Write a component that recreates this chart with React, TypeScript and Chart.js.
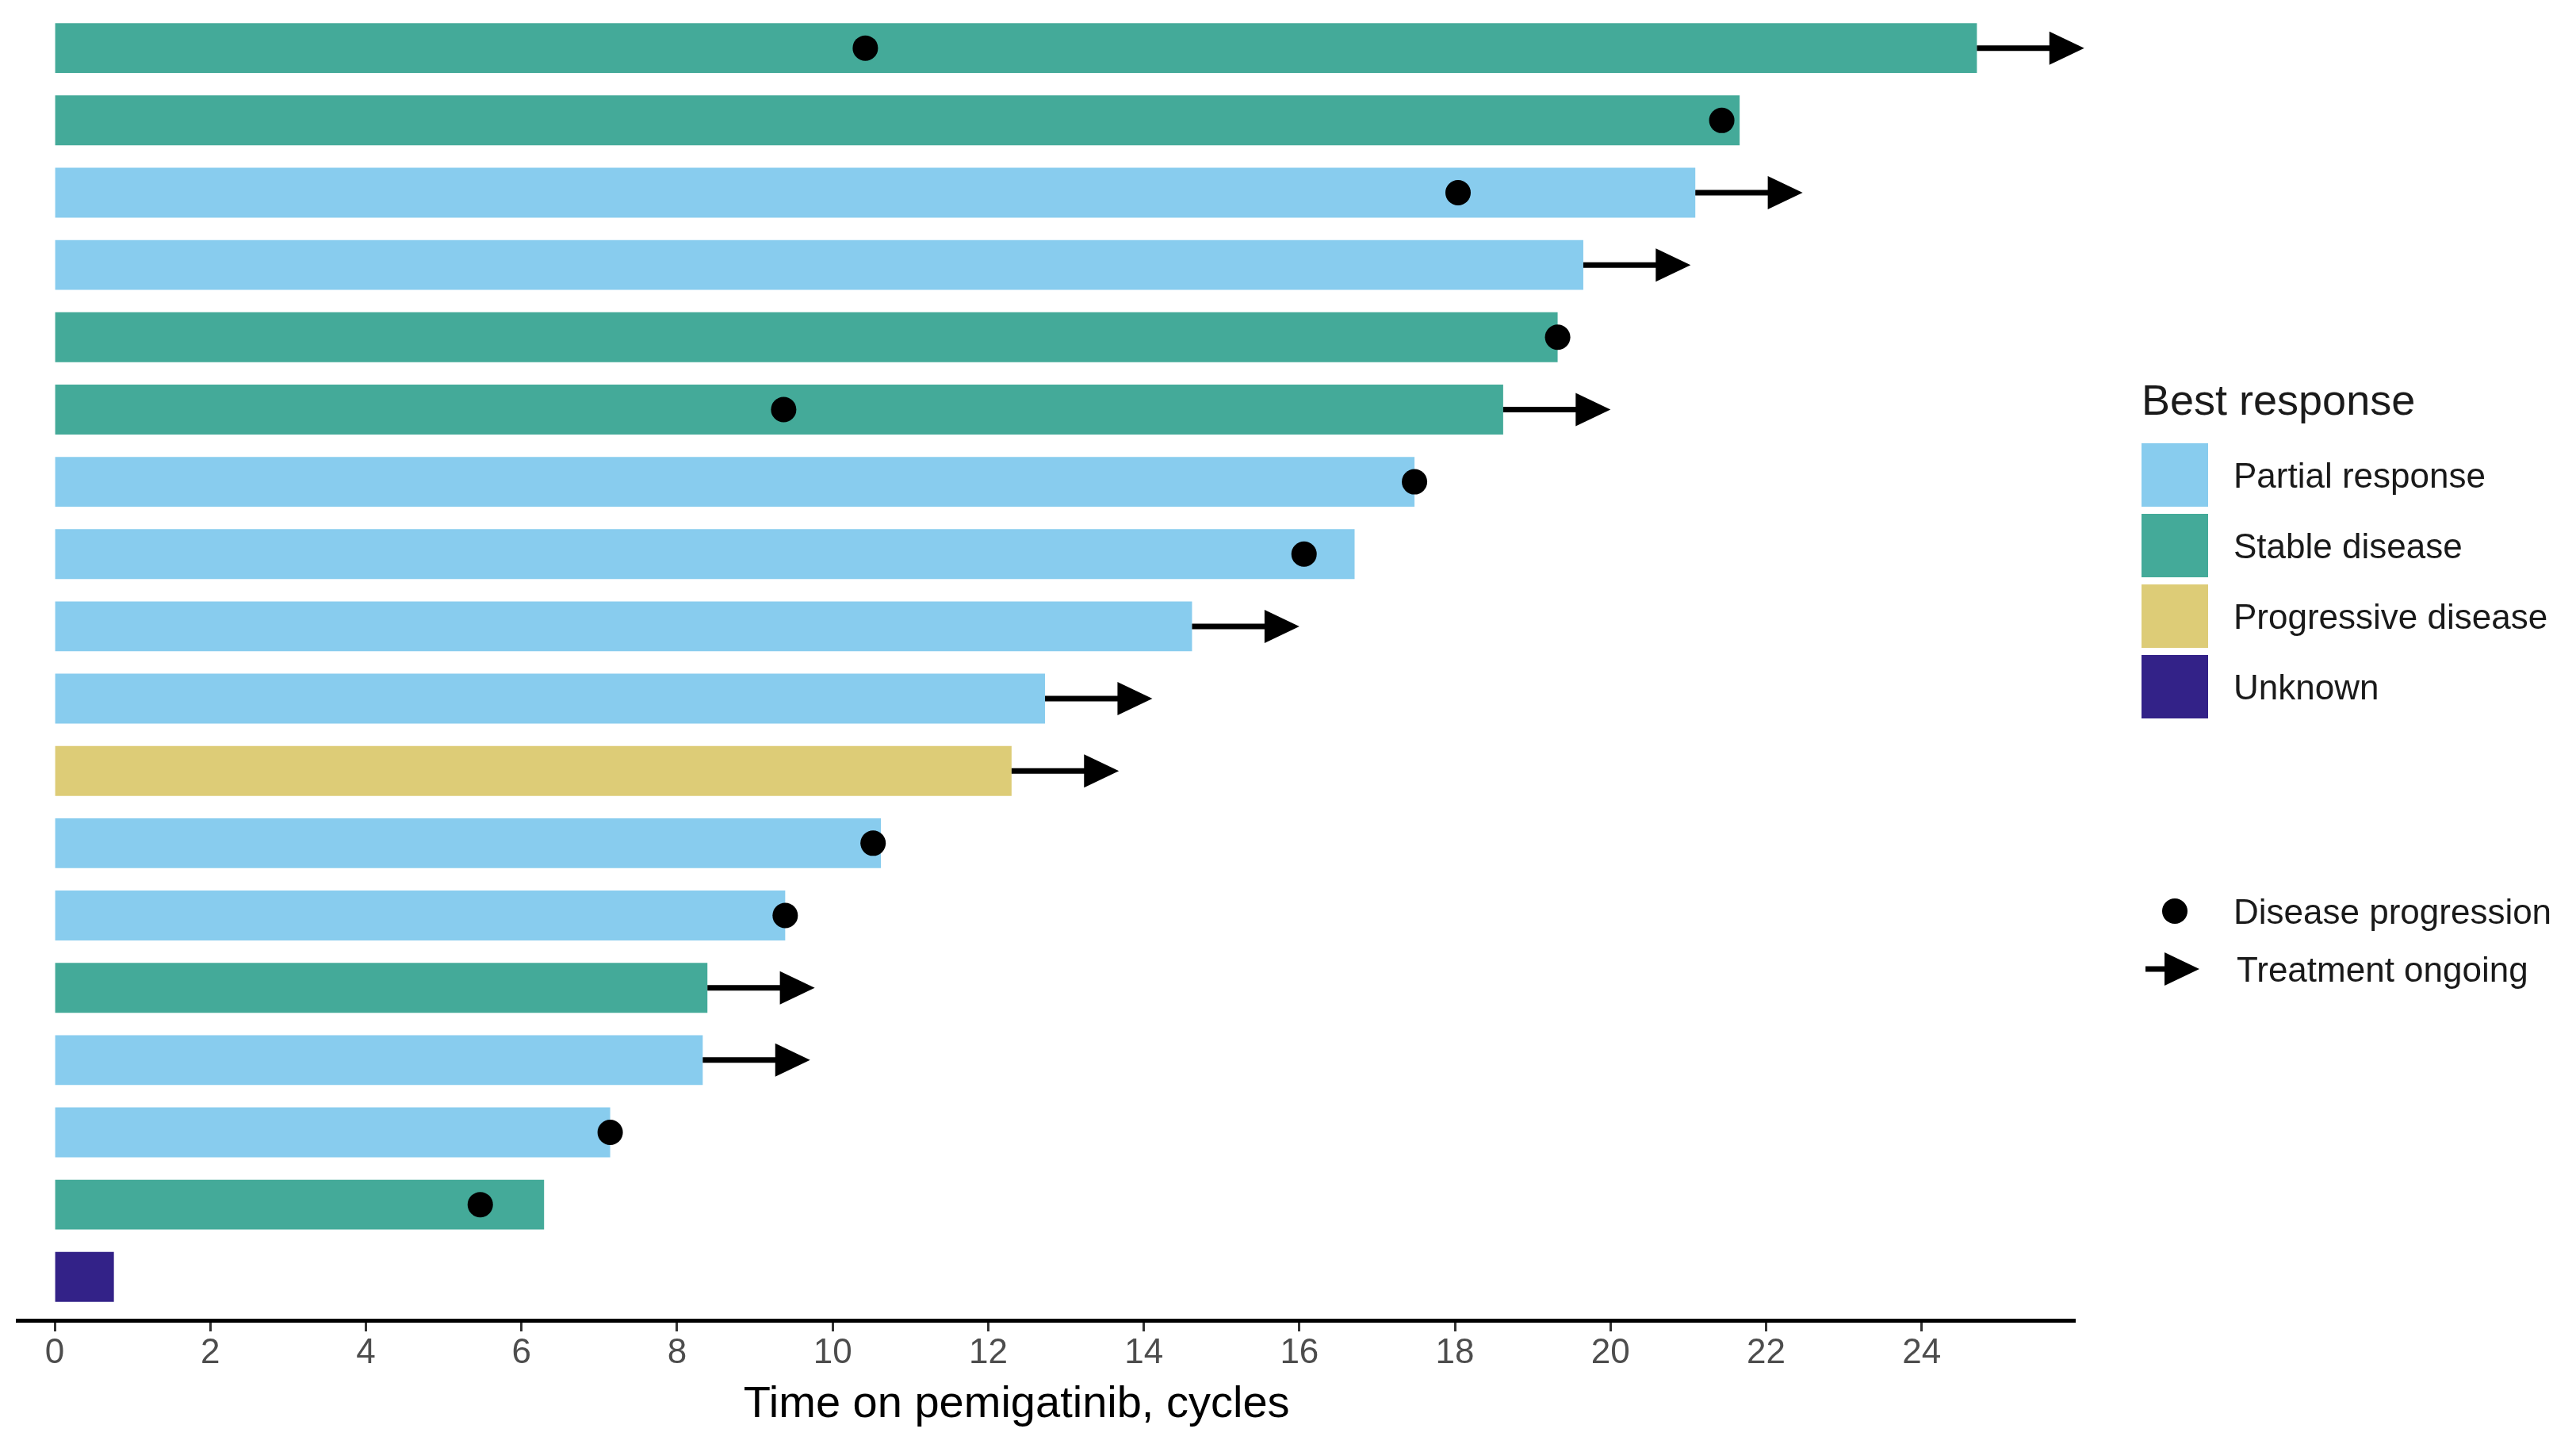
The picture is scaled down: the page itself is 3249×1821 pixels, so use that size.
import React, { useEffect, useRef } from "react";
import { Chart, registerables } from "chart.js";

Chart.register(...registerables);

// ---------------- data ----------------
const patients = ["1", "2", "3", "4", "5", "6", "7", "8", "9", "10", "11", "12", "13", "14", "15", "16", "17", "18"];
const cycles = [24.71, 21.66, 21.09, 19.65, 19.32, 18.62, 17.48, 16.71, 14.62, 12.73, 12.3, 10.62, 9.39, 8.39, 8.33, 7.14, 6.29, 0.76];
const bestResponse = [
  "Stable disease", "Stable disease", "Partial response", "Partial response", "Stable disease", "Stable disease",
  "Partial response", "Partial response", "Partial response", "Partial response", "Progressive disease", "Partial response",
  "Partial response", "Stable disease", "Partial response", "Partial response", "Stable disease", "Unknown",
];
const progression = [10.42, 21.43, 18.04, null, 19.32, 9.37, 17.48, 16.06, null, null, null, 10.52, 9.39, null, null, 7.14, 5.47, null];
const ongoing = [true, false, true, true, false, true, false, false, true, true, true, false, false, true, true, false, false, false];

const responseCategories = ["Partial response", "Stable disease", "Progressive disease", "Unknown"];
const responseColors = ["#88CCEE", "#44AA99", "#DDCC77", "#332288"];
const xTicks = [0, 2, 4, 6, 8, 10, 12, 14, 16, 18, 20, 22, 24];
const xAxisTitle = "Time on pemigatinib, cycles";
const legendTitle = "Best response";
const markerLabels = ["Disease progression", "Treatment ongoing"];
const arrowLength = 1.38; // cycles

const FONT = '"Liberation Sans", Arial, Helvetica, sans-serif';

function drawArrow(ctx: CanvasRenderingContext2D, x0: number, x1: number, y: number) {
  const headLen = 44;
  const headHalf = 21;
  ctx.strokeStyle = "#000";
  ctx.fillStyle = "#000";
  ctx.lineWidth = 7;
  ctx.lineCap = "butt";
  ctx.beginPath();
  ctx.moveTo(x0, y);
  ctx.lineTo(x1 - headLen + 2, y);
  ctx.stroke();
  ctx.beginPath();
  ctx.moveTo(x1 - headLen, y - headHalf);
  ctx.lineTo(x1, y);
  ctx.lineTo(x1 - headLen, y + headHalf);
  ctx.closePath();
  ctx.fill();
}

const overlayPlugin = {
  id: "overlay",
  afterDatasetsDraw(chart: any) {
    const ctx: CanvasRenderingContext2D = chart.ctx;
    const xs = chart.scales.x;
    const ys = chart.scales.y;
    ctx.save();
    ongoing.forEach((on, i) => {
      if (!on) return;
      const x0 = xs.getPixelForValue(cycles[i]);
      const x1 = xs.getPixelForValue(cycles[i] + arrowLength);
      const y = ys.getPixelForValue(i);
      drawArrow(ctx, x0, x1, y);
    });
    ctx.restore();
  },
  afterDraw(chart: any) {
    const ctx: CanvasRenderingContext2D = chart.ctx;
    const area = chart.chartArea;
    ctx.save();
    // x axis title
    ctx.fillStyle = "#000";
    ctx.font = `56px ${FONT}`;
    ctx.textAlign = "center";
    ctx.textBaseline = "alphabetic";
    ctx.fillText(xAxisTitle, area.left + area.width * 0.4856, area.bottom + 122);

    // legend
    const lx = area.right + 84;
    ctx.textAlign = "left";
    ctx.fillStyle = "#1a1a1a";
    ctx.font = `54px ${FONT}`;
    ctx.fillText(legendTitle, lx, 523);
    const rowTop = 559;
    const rowStep = 89;
    const sw = 84;
    const sh = 80;
    ctx.font = `44px ${FONT}`;
    responseCategories.forEach((cat, i) => {
      const top = rowTop + i * rowStep;
      ctx.fillStyle = responseColors[i];
      ctx.fillRect(lx, top, sw, sh);
      ctx.fillStyle = "#1a1a1a";
      ctx.fillText(cat, lx + 116, top + sh / 2 + 16);
    });
    // markers
    const dotY = 1149;
    ctx.fillStyle = "#000";
    ctx.beginPath();
    ctx.arc(lx + 42, dotY, 16, 0, Math.PI * 2);
    ctx.fill();
    ctx.fillStyle = "#1a1a1a";
    ctx.fillText(markerLabels[0], lx + 116, dotY + 16);
    const arrY = 1222;
    drawArrow(ctx, lx + 5, lx + 73, arrY);
    ctx.fillStyle = "#1a1a1a";
    ctx.fillText(markerLabels[1], lx + 120, arrY + 16);
    ctx.restore();
  },
};

export default function App() {
  const canvasRef = useRef<HTMLCanvasElement | null>(null);

  useEffect(() => {
    if (!canvasRef.current) return;
    Chart.defaults.font.family = FONT;
    const barData = cycles.map((v, i) => ({ x: v, y: i }));
    const barColors = bestResponse.map((r) => responseColors[responseCategories.indexOf(r)]);
    const dotData: { x: number; y: number }[] = [];
    progression.forEach((p, i) => {
      if (p !== null) dotData.push({ x: p as number, y: i });
    });

    const chart = new Chart(canvasRef.current, {
      type: "bar",
      data: {
        labels: patients,
        datasets: [
          {
            type: "bar",
            label: "Time on treatment",
            data: barData as any,
            backgroundColor: barColors,
            borderWidth: 0,
            categoryPercentage: 1,
            barPercentage: 0.69,
            order: 1,
          } as any,
          {
            type: "scatter",
            label: "Disease progression",
            data: dotData as any,
            backgroundColor: "#000",
            borderWidth: 0,
            pointRadius: 16,
            pointHoverRadius: 16,
            order: 0,
          } as any,
        ],
      },
      options: {
        indexAxis: "y",
        animation: false,
        responsive: true,
        maintainAspectRatio: false,
        layout: { padding: { left: 22, right: 632, top: 4, bottom: 0 } },
        plugins: {
          legend: { display: false },
          tooltip: { enabled: false },
        },
        scales: {
          x: {
            type: "linear",
            position: "bottom",
            offset: false,
            min: -0.48,
            max: 25.97,
            afterBuildTicks: (s: any) => {
              s.ticks = xTicks.map((v) => ({ value: v }));
            },
            afterFit: (s: any) => {
              s.height = 156;
            },
            ticks: {
              color: "#4d4d4d",
              font: { size: 44, family: FONT },
              padding: 1,
              maxRotation: 0,
              autoSkip: false,
            },
            grid: {
              display: true,
              drawOnChartArea: false,
              drawTicks: true,
              tickLength: 14,
              tickWidth: 3,
              tickColor: "#333",
            },
            border: { display: true, color: "#000", width: 5 },
          },
          y: {
            type: "linear",
            offset: false,
            min: -0.49,
            max: 17.6,
            reverse: true,
            display: false,
            afterBuildTicks: (s: any) => {
              s.ticks = patients.map((_, i) => ({ value: i }));
            },
          },
        },
      } as any,
      plugins: [overlayPlugin],
    });
    return () => chart.destroy();
  }, []);

  return (
    <div style={{ position: "fixed", left: 0, top: 0, width: "100vw", height: "100vh", background: "#fff" }}>
      <canvas ref={canvasRef} />
    </div>
  );
}
